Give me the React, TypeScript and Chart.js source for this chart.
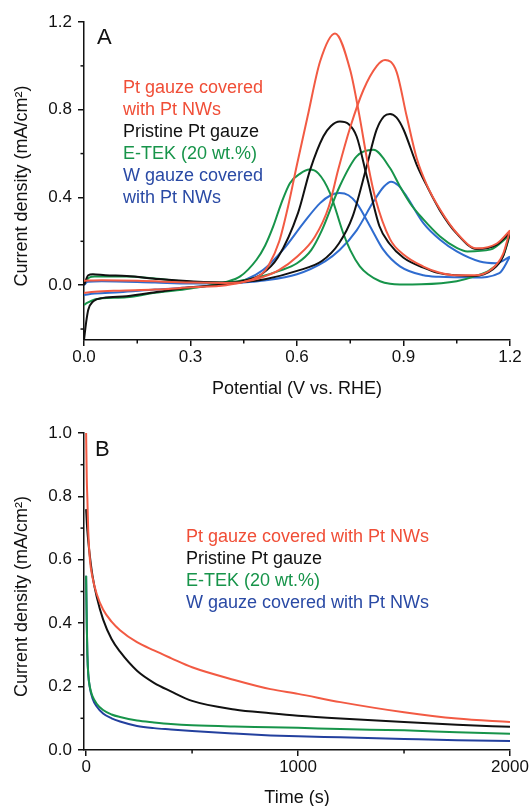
import React, { useEffect, useRef } from "react";
import { Chart, registerables } from "chart.js";

Chart.register(...registerables);

const FONT = "'Liberation Sans', Arial, Helvetica, sans-serif";

// ---------------- Panel A : cyclic voltammograms ----------------
const cvTicksX = [0, 0.3, 0.6, 0.9, 1.2];
const cvMinorX = [0.15, 0.45, 0.75, 1.05];
const cvTicksY = [0, 0.4, 0.8, 1.2];
const cvMinorY = [-0.2, 0.2, 0.6, 1.0];

// Pt gauze covered with Pt NWs
const ptNwFwdV = [0, 0.05, 0.15, 0.3, 0.4, 0.45, 0.5, 0.55, 0.6, 0.65, 0.69, 0.716, 0.75, 0.787, 0.825, 0.848, 0.88, 0.909, 0.937, 0.965, 1.003, 1.05, 1.106, 1.163, 1.2];
const ptNwFwdJ = [0.02, 0.022, 0.02, 0.012, 0.01, 0.015, 0.035, 0.07, 0.13, 0.22, 0.36, 0.526, 0.72, 0.89, 1.0, 1.027, 0.975, 0.77, 0.58, 0.46, 0.345, 0.238, 0.168, 0.19, 0.25];
const ptNwRevV = [1.2, 1.18, 1.15, 1.1, 1.05, 1.0, 0.956, 0.9, 0.862, 0.82, 0.8, 0.775, 0.75, 0.707, 0.665, 0.63, 0.6, 0.575, 0.55, 0.52, 0.5, 0.45, 0.4, 0.3, 0.2, 0.1, 0.03, 0];
const ptNwRevJ = [0.25, 0.14, 0.075, 0.045, 0.045, 0.058, 0.085, 0.14, 0.21, 0.4, 0.55, 0.78, 0.98, 1.148, 1.02, 0.77, 0.55, 0.36, 0.2, 0.09, 0.05, 0.015, 0.0, -0.01, -0.02, -0.025, -0.03, -0.035];

// Pristine Pt gauze
const ptFwdV = [0, 0.012, 0.025, 0.06, 0.12, 0.21, 0.3, 0.4, 0.45, 0.51, 0.6, 0.67, 0.718, 0.756, 0.796, 0.824, 0.845, 0.862, 0.88, 0.9, 0.937, 0.965, 1.003, 1.05, 1.106, 1.163, 1.2];
const ptFwdJ = [0.0, 0.045, 0.05, 0.045, 0.042, 0.028, 0.018, 0.012, 0.015, 0.027, 0.065, 0.11, 0.19, 0.31, 0.54, 0.708, 0.77, 0.781, 0.765, 0.71, 0.55, 0.455, 0.34, 0.235, 0.165, 0.185, 0.24];
const ptRevV = [1.2, 1.18, 1.15, 1.1, 1.05, 1.0, 0.956, 0.9, 0.86, 0.832, 0.796, 0.768, 0.745, 0.721, 0.695, 0.674, 0.637, 0.603, 0.546, 0.5, 0.45, 0.4, 0.3, 0.21, 0.12, 0.054, 0.026, 0.012, 0.006, 0];
const ptRevJ = [0.24, 0.13, 0.07, 0.042, 0.045, 0.055, 0.08, 0.125, 0.19, 0.27, 0.5, 0.678, 0.735, 0.746, 0.725, 0.678, 0.526, 0.33, 0.126, 0.05, 0.02, 0.005, -0.01, -0.03, -0.05, -0.058, -0.074, -0.112, -0.17, -0.25];

// E-TEK (20 wt.%)
const etekFwdV = [0, 0.015, 0.03, 0.12, 0.2, 0.3, 0.4, 0.44, 0.5, 0.55, 0.6, 0.64, 0.67, 0.72, 0.768, 0.815, 0.862, 0.89, 0.92, 0.956, 1.003, 1.05, 1.08, 1.144, 1.2];
const etekFwdJ = [0.01, 0.035, 0.04, 0.04, 0.03, 0.015, 0.012, 0.02, 0.04, 0.065, 0.1, 0.16, 0.25, 0.45, 0.587, 0.617, 0.534, 0.45, 0.37, 0.3, 0.222, 0.17, 0.154, 0.162, 0.23];
const etekRevV = [1.2, 1.18, 1.144, 1.1, 1.05, 0.95, 0.89, 0.862, 0.834, 0.8, 0.777, 0.75, 0.73, 0.693, 0.66, 0.635, 0.61, 0.58, 0.555, 0.533, 0.51, 0.486, 0.44, 0.4, 0.3, 0.2, 0.12, 0.05, 0.03, 0.01, 0];
const etekRevJ = [0.23, 0.13, 0.07, 0.04, 0.018, 0.004, 0.003, 0.006, 0.018, 0.05, 0.086, 0.16, 0.238, 0.42, 0.51, 0.527, 0.51, 0.465, 0.37, 0.268, 0.18, 0.116, 0.04, 0.015, -0.015, -0.035, -0.055, -0.06, -0.065, -0.08, -0.09];

// W gauze covered with Pt NWs
const wNwFwdV = [0, 0.01, 0.05, 0.2, 0.3, 0.4, 0.45, 0.5, 0.6, 0.68, 0.72, 0.768, 0.815, 0.845, 0.865, 0.885, 0.909, 0.956, 1.003, 1.05, 1.115, 1.16, 1.2];
const wNwFwdJ = [0.0, 0.015, 0.018, 0.012, 0.008, 0.008, 0.012, 0.02, 0.05, 0.11, 0.16, 0.25, 0.38, 0.45, 0.472, 0.455, 0.404, 0.283, 0.207, 0.154, 0.108, 0.1, 0.13];
const wNwRevV = [1.2, 1.17, 1.1, 1.0, 0.956, 0.89, 0.843, 0.806, 0.768, 0.745, 0.72, 0.695, 0.665, 0.618, 0.561, 0.505, 0.455, 0.4, 0.3, 0.2, 0.1, 0.03, 0];
const wNwRevJ = [0.13, 0.055, 0.035, 0.038, 0.045, 0.086, 0.162, 0.268, 0.374, 0.41, 0.42, 0.41, 0.374, 0.283, 0.162, 0.07, 0.025, 0.005, -0.01, -0.02, -0.032, -0.038, -0.045];

// ---------------- Panel B : chronoamperometry ----------------
const caTicksX = [0, 1000, 2000];
const caMinorX = [500, 1500];
const caTicksY = [0, 0.2, 0.4, 0.6, 0.8, 1.0];
const caMinorY = [0.1, 0.3, 0.5, 0.7, 0.9];

const timeS = [0, 3, 6, 10, 18, 30, 50, 80, 120, 160, 240, 320, 400, 500, 700, 870, 1000, 1200, 1500, 1750, 2000];
const caPtNw = [1.0, 0.86, 0.79, 0.69, 0.6, 0.545, 0.492, 0.443, 0.405, 0.378, 0.34, 0.314, 0.29, 0.261, 0.221, 0.192, 0.177, 0.151, 0.119, 0.099, 0.088];
const caPt = [0.76, 0.72, 0.69, 0.66, 0.61, 0.55, 0.483, 0.412, 0.35, 0.31, 0.25, 0.212, 0.185, 0.155, 0.128, 0.116, 0.108, 0.099, 0.088, 0.08, 0.073];
const caEtek = [0.55, 0.4, 0.3, 0.24, 0.198, 0.17, 0.146, 0.126, 0.112, 0.104, 0.093, 0.087, 0.082, 0.078, 0.074, 0.072, 0.07, 0.066, 0.062, 0.056, 0.051];
const caWNw = [0.55, 0.4, 0.3, 0.24, 0.195, 0.163, 0.137, 0.115, 0.1, 0.09, 0.076, 0.069, 0.065, 0.06, 0.052, 0.046, 0.043, 0.04, 0.035, 0.031, 0.028];

// ---------------- labels & colours ----------------
const legendA = ["Pt gauze covered", "with Pt NWs", "Pristine Pt gauze", "E-TEK (20 wt.%)", "W gauze covered", "with Pt NWs"];
const legendB = ["Pt gauze covered with Pt NWs", "Pristine Pt gauze", "E-TEK (20 wt.%)", "W gauze covered with Pt NWs"];

const RED = "#F25A43";
const BLACK = "#111111";
const GREEN = "#17944A";
const BLUE_A = "#2F6CCF";
const BLUE_B = "#23409E";
const RED_T = "#F04E37";
const BLUE_T = "#2A4AA5";
const legendAColors = [RED_T, RED_T, BLACK, GREEN, BLUE_T, BLUE_T];
const legendBColors = [RED_T, BLACK, GREEN, BLUE_T];

const mk = (xs: number[], ys: number[]) => xs.map((x, i) => ({ x, y: ys[i] }));

const line = (data: any[], color: string) => ({
  data,
  borderColor: color,
  backgroundColor: color,
  borderWidth: 2,
  showLine: true,
  pointRadius: 0,
  fill: false,
  cubicInterpolationMode: "monotone" as const,
});

const decor = (cfg: any) => ({
  id: "decor",
  afterDraw(chart: any) {
    const { ctx, chartArea, scales } = chart;
    ctx.save();
    ctx.strokeStyle = BLACK;
    ctx.lineWidth = 1.5;
    cfg.minorX.forEach((v: number) => {
      const px = scales.x.getPixelForValue(v);
      ctx.beginPath();
      ctx.moveTo(px, chartArea.bottom);
      ctx.lineTo(px, chartArea.bottom + 3.5);
      ctx.stroke();
    });
    cfg.minorY.forEach((v: number) => {
      const py = scales.y.getPixelForValue(v);
      ctx.beginPath();
      ctx.moveTo(chartArea.left, py);
      ctx.lineTo(chartArea.left - 3.5, py);
      ctx.stroke();
    });
    ctx.fillStyle = BLACK;
    ctx.textBaseline = "middle";
    ctx.textAlign = "center";
    ctx.font = `18px ${FONT}`;
    ctx.fillText(cfg.xTitle, (chartArea.left + chartArea.right) / 2, chartArea.bottom + cfg.xTitleDy);
    ctx.save();
    ctx.translate(cfg.yTitleX, (chartArea.top + chartArea.bottom) / 2 + cfg.yTitleDy);
    ctx.rotate(-Math.PI / 2);
    ctx.fillText(cfg.yTitle, 0, 0);
    ctx.restore();
    ctx.textAlign = "left";
    ctx.font = `22px ${FONT}`;
    ctx.fillText(cfg.letter, chartArea.left + cfg.letterDx, chartArea.top + cfg.letterDy);
    ctx.font = `18px ${FONT}`;
    cfg.legend.forEach((t: string, i: number) => {
      ctx.fillStyle = cfg.legendColors[i];
      ctx.fillText(t, chartArea.left + cfg.legendDx, chartArea.top + cfg.legendDy + i * cfg.legendGap);
    });
    ctx.restore();
  },
});

const axis = (min: number, max: number, ticks: number[], fmt: (v: number) => string, isX: boolean, size: number) => ({
  type: "linear" as const,
  min,
  max,
  afterBuildTicks: (s: any) => {
    s.ticks = ticks.map((v) => ({ value: v }));
  },
  afterFit: (s: any) => {
    if (isX) s.height = size;
    else s.width = size;
  },
  ticks: {
    callback: (v: any) => fmt(Number(v)),
    font: { family: FONT, size: 17 },
    color: BLACK,
    padding: isX ? 1 : 6,
    maxRotation: 0,
    autoSkip: false,
  },
  grid: {
    display: true,
    drawOnChartArea: false,
    drawTicks: true,
    tickLength: 6,
    tickColor: BLACK,
    tickWidth: 1.5,
    lineWidth: 1.5,
    color: BLACK,
  },
  border: { display: true, color: BLACK, width: 1.5 },
});

function PanelA() {
  const ref = useRef<HTMLCanvasElement>(null);
  useEffect(() => {
    const chart = new Chart(ref.current!, {
      type: "scatter",
      data: {
        datasets: [
          line(mk(ptNwFwdV, ptNwFwdJ), RED),
          line(mk(ptNwRevV, ptNwRevJ), RED),
          line(mk(ptFwdV, ptFwdJ), BLACK),
          line(mk(ptRevV, ptRevJ), BLACK),
          line(mk(etekFwdV, etekFwdJ), GREEN),
          line(mk(etekRevV, etekRevJ), GREEN),
          line(mk(wNwFwdV, wNwFwdJ), BLUE_A),
          line(mk(wNwRevV, wNwRevJ), BLUE_A),
        ] as any,
      },
      options: {
        animation: false,
        responsive: false,
        devicePixelRatio: 1,
        layout: { padding: { top: 22, right: 22, left: 0, bottom: 0 } },
        plugins: { legend: { display: false }, tooltip: { enabled: false } },
        scales: {
          x: axis(0, 1.2, cvTicksX, (v) => v.toFixed(1), true, 60),
          y: axis(-0.25, 1.2, cvTicksY, (v) => v.toFixed(1), false, 84),
        } as any,
      },
      plugins: [
        decor({
          minorX: cvMinorX,
          minorY: cvMinorY,
          xTitle: "Potential (V vs. RHE)",
          xTitleDy: 49,
          yTitle: "Current density (mA/cm\u00B2)",
          yTitleX: 22,
          yTitleDy: 5,
          letter: "A",
          letterDx: 13,
          letterDy: 15.5,
          legend: legendA,
          legendColors: legendAColors,
          legendDx: 39,
          legendDy: 66.5,
          legendGap: 21.9,
        }),
      ],
    });
    return () => chart.destroy();
  }, []);
  return <canvas ref={ref} width={532} height={400} style={{ position: "absolute", left: 0, top: 0, width: 532, height: 400 }} />;
}

function PanelB() {
  const ref = useRef<HTMLCanvasElement>(null);
  useEffect(() => {
    const chart = new Chart(ref.current!, {
      type: "scatter",
      data: {
        datasets: [
          line(mk(timeS, caPtNw), RED),
          line(mk(timeS, caPt), BLACK),
          line(mk(timeS, caEtek), GREEN),
          line(mk(timeS, caWNw), BLUE_B),
        ] as any,
      },
      options: {
        animation: false,
        responsive: false,
        devicePixelRatio: 1,
        layout: { padding: { top: 33, right: 22, left: 0, bottom: 0 } },
        plugins: { legend: { display: false }, tooltip: { enabled: false } },
        scales: {
          x: axis(-10, 2000, caTicksX, (v) => String(v), true, 56),
          y: axis(0, 1.0, caTicksY, (v) => v.toFixed(1), false, 84),
        } as any,
      },
      plugins: [
        decor({
          minorX: caMinorX,
          minorY: caMinorY,
          xTitle: "Time (s)",
          xTitleDy: 48,
          yTitle: "Current density (mA/cm\u00B2)",
          yTitleX: 22,
          yTitleDy: 5,
          letter: "B",
          letterDx: 11,
          letterDy: 17,
          legend: legendB,
          legendColors: legendBColors,
          legendDx: 102,
          legendDy: 104,
          legendGap: 21.9,
        }),
      ],
    });
    return () => chart.destroy();
  }, []);
  return <canvas ref={ref} width={532} height={406} style={{ position: "absolute", left: 0, top: 400, width: 532, height: 406 }} />;
}

export default function App() {
  return (
    <div style={{ position: "absolute", left: 0, top: 0, width: 532, height: 806, background: "#fff" }}>
      <PanelA />
      <PanelB />
    </div>
  );
}
